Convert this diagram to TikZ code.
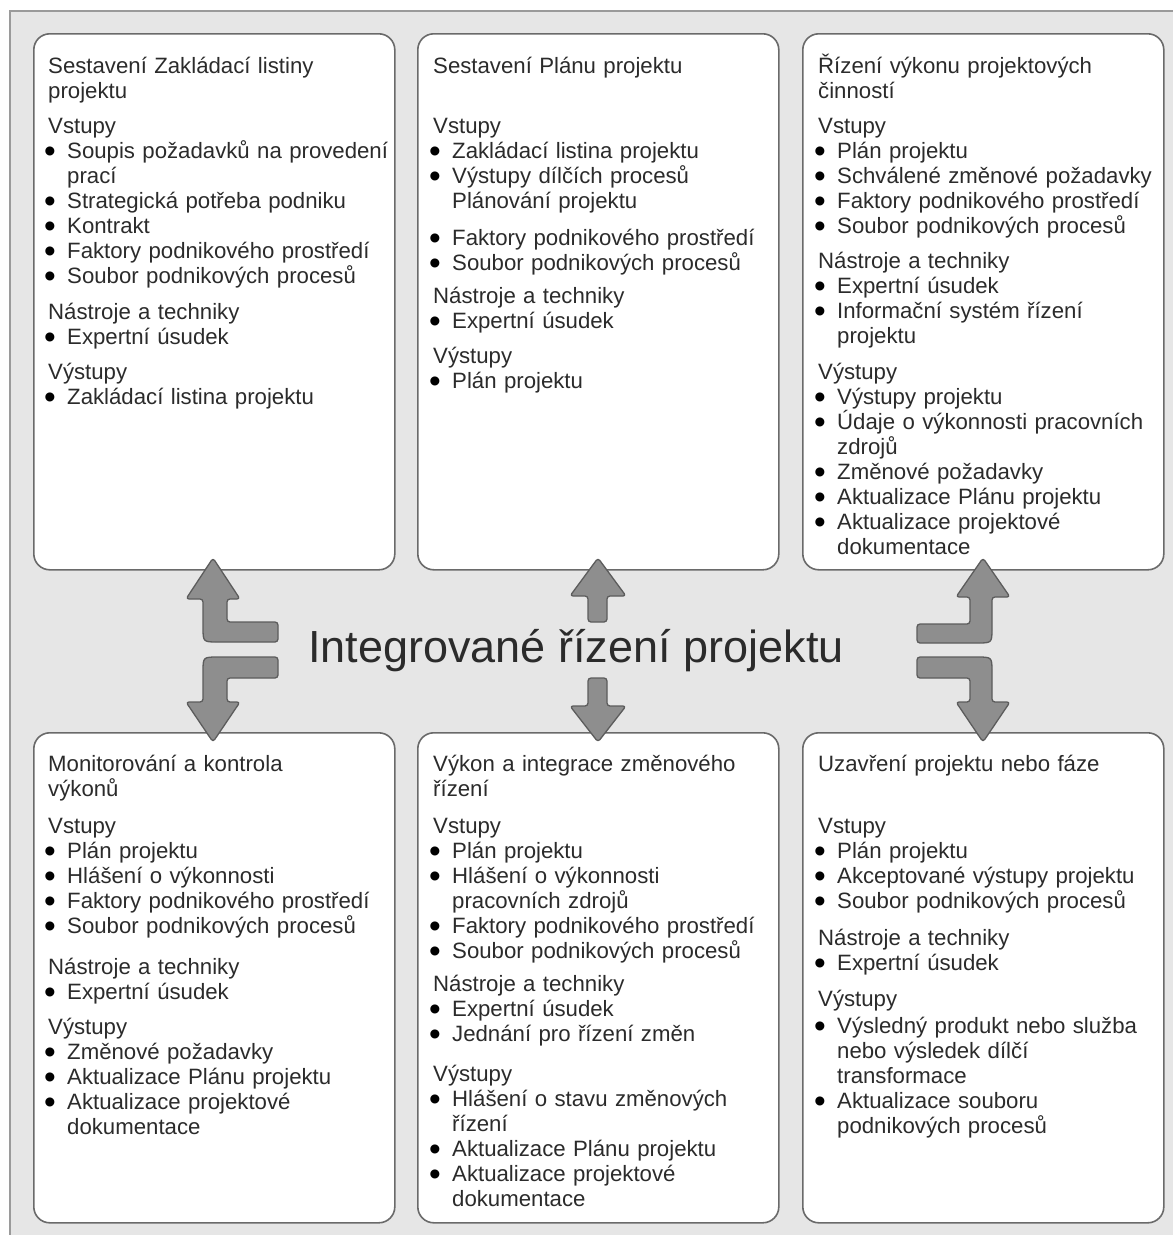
\documentclass[tikz,border=0pt]{standalone}
\usepackage{fontspec}
\setmainfont{Liberation Sans}
\usepackage{tikz}

\definecolor{bgcol}{HTML}{E6E6E6}
\definecolor{framecol}{HTML}{9A9A9A}
\definecolor{boxline}{HTML}{6A6A6A}
\definecolor{txtcol}{HTML}{2B2B2B}
\definecolor{arrowfill}{HTML}{8E8E8E}
\definecolor{arrowline}{HTML}{5C5C5C}

\newcommand{\itm}[1]{\makebox[19pt][l]{\hspace*{-4pt}\raisebox{-4.5pt}[0pt][0pt]{\color{black}\scalebox{1.5}{\textbullet}}}#1}
\newcommand{\cnt}[1]{\makebox[19pt]{}#1}

\tikzset{
  procbox/.style={draw=boxline, line width=1.6pt, fill=white, rounded corners=16pt,
    anchor=north west, inner sep=0pt, minimum width=361pt},
  boxtext/.style={anchor=base west, inner sep=0pt, text width=350pt, align=left,
    text=txtcol, font=\fontsize{22.2}{25}\selectfont},
  blockarrow/.style={fill=arrowfill, draw=arrowline, line width=1.3pt,
    line join=round, rounded corners=3pt}
}

\begin{document}
\begin{tikzpicture}[x=1pt, y=-1pt]
		\useasboundingbox (0,0) rectangle (1173,1235);
		\fill[bgcol] (10,11) rectangle (1173,1235);
		\draw[framecol, line width=1.5pt] (10,1235) -- (10,11) -- (1173,11);

		\node[procbox, minimum height=536pt] (zl) at (33,33) {};
		\node[procbox, minimum height=536pt] (pp) at (417,33) {};
		\node[procbox, minimum height=536pt] (rv) at (802,33) {};
		\node[procbox, minimum height=490pt] (mk) at (33,732) {};
		\node[procbox, minimum height=490pt] (zr) at (417,732) {};
		\node[procbox, minimum height=490pt] (uz) at (802,732) {};

		\node[boxtext] (zl-t) at (48,73) {Sestavení Zakládací listiny\\
		  projektu\\[10pt]
		  Vstupy\\
		  \itm{Soupis požadavků na provedení}\\
		  \cnt{prací}\\
		  \itm{Strategická potřeba podniku}\\
		  \itm{Kontrakt}\\
		  \itm{Faktory podnikového prostředí}\\
		  \itm{Soubor podnikových procesů}\\[11pt]
		  Nástroje a techniky\\
		  \itm{Expertní úsudek}\\[10pt]
		  Výstupy\\
		  \itm{Zakládací listina projektu}};
		\node[boxtext] (pp-t) at (433,73) {Sestavení Plánu projektu\\[35pt]
		  Vstupy\\
		  \itm{Zakládací listina projektu}\\
		  \itm{Výstupy dílčích procesů}\\
		  \cnt{Plánování projektu}\\[12pt]
		  \itm{Faktory podnikového prostředí}\\
		  \itm{Soubor podnikových procesů}\\[8pt]
		  Nástroje a techniky\\
		  \itm{Expertní úsudek}\\[10pt]
		  Výstupy\\
		  \itm{Plán projektu}};
		\node[boxtext] (rv-t) at (818,73) {Řízení výkonu projektových\\
		  činností\\[10pt]
		  Vstupy\\
		  \itm{Plán projektu}\\
		  \itm{Schválené změnové požadavky}\\
		  \itm{Faktory podnikového prostředí}\\
		  \itm{Soubor podnikových procesů}\\[10pt]
		  Nástroje a techniky\\
		  \itm{Expertní úsudek}\\
		  \itm{Informační systém řízení}\\
		  \cnt{projektu}\\[11pt]
		  Výstupy\\
		  \itm{Výstupy projektu}\\
		  \itm{Údaje o výkonnosti pracovních}\\
		  \cnt{zdrojů}\\
		  \itm{Změnové požadavky}\\
		  \itm{Aktualizace Plánu projektu}\\
		  \itm{Aktualizace projektové}\\
		  \cnt{dokumentace}};
		\node[boxtext] (mk-t) at (48,771) {Monitorování a kontrola\\
		  výkonů\\[12pt]
		  Vstupy\\
		  \itm{Plán projektu}\\
		  \itm{Hlášení o výkonnosti}\\
		  \itm{Faktory podnikového prostředí}\\
		  \itm{Soubor podnikových procesů}\\[16pt]
		  Nástroje a techniky\\
		  \itm{Expertní úsudek}\\[10pt]
		  Výstupy\\
		  \itm{Změnové požadavky}\\
		  \itm{Aktualizace Plánu projektu}\\
		  \itm{Aktualizace projektové}\\
		  \cnt{dokumentace}};
		\node[boxtext] (zr-t) at (433,771) {Výkon a integrace změnového\\
		  řízení\\[12pt]
		  Vstupy\\
		  \itm{Plán projektu}\\
		  \itm{Hlášení o výkonnosti}\\
		  \cnt{pracovních zdrojů}\\
		  \itm{Faktory podnikového prostředí}\\
		  \itm{Soubor podnikových procesů}\\[8pt]
		  Nástroje a techniky\\
		  \itm{Expertní úsudek}\\
		  \itm{Jednání pro řízení změn}\\[15pt]
		  Výstupy\\
		  \itm{Hlášení o stavu změnových}\\
		  \cnt{řízení}\\
		  \itm{Aktualizace Plánu projektu}\\
		  \itm{Aktualizace projektové}\\
		  \cnt{dokumentace}};
		\node[boxtext] (uz-t) at (818,771) {Uzavření projektu nebo fáze\\[37pt]
		  Vstupy\\
		  \itm{Plán projektu}\\
		  \itm{Akceptované výstupy projektu}\\
		  \itm{Soubor podnikových procesů}\\[12pt]
		  Nástroje a techniky\\
		  \itm{Expertní úsudek}\\[11pt]
		  Výstupy\\[2pt]
		  \itm{Výsledný produkt nebo služba}\\
		  \cnt{nebo výsledek dílčí}\\
		  \cnt{transformace}\\
		  \itm{Aktualizace souboru}\\
		  \cnt{podnikových procesů}};

		\node[anchor=base, inner sep=0pt, text=txtcol, font=\fontsize{45}{50}\selectfont] (irp)
		  at (576,662) {Integrované řízení projektu};

		\draw[blockarrow] (278,622) -- (227,622) -- (227,599) -- (240,599) -- (213,558)
		  -- (186,599) -- (203,599) -- (203,624) .. controls (203,642) .. (221,642)
		  -- (278,642) -- cycle;
		\draw[blockarrow] (278,657) -- (221,657) .. controls (203,657) .. (203,675)
		  -- (203,702) -- (186,702) -- (213,742) -- (240,702) -- (227,702)
		  -- (227,678) -- (278,678) -- cycle;
		\draw[blockarrow] (588,622) -- (588,596) -- (570,596) -- (598,558) -- (626,596)
		  -- (607,596) -- (607,622) -- cycle;
		\draw[blockarrow] (588,678) -- (588,706) -- (570,706) -- (598,742) -- (626,706)
		  -- (607,706) -- (607,678) -- cycle;
		\draw[blockarrow] (917,624) -- (970,624) -- (970,597) -- (956,597) -- (983,558)
		  -- (1010,597) -- (992,597) -- (992,625) .. controls (992,643) .. (974,643)
		  -- (917,643) -- cycle;
		\draw[blockarrow] (917,657) -- (974,657) .. controls (992,657) .. (992,675)
		  -- (992,702) -- (1010,702) -- (983,742) -- (956,702) -- (970,702)
		  -- (970,678) -- (917,678) -- cycle;
		\end{tikzpicture}
\end{document}
